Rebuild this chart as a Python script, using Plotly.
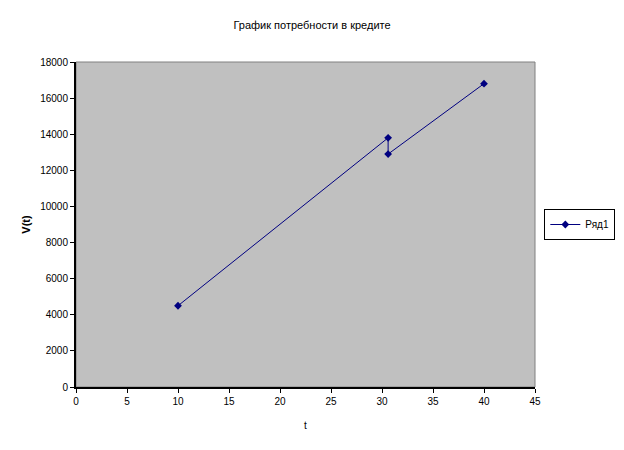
import plotly.graph_objects as go

# data
t_values = [10, 30.6, 30.6, 40]
v_values = [4500, 13800, 12900, 16800]
series_name = "Ряд1"

x_ticks = [0, 5, 10, 15, 20, 25, 30, 35, 40, 45]
y_ticks = [0, 2000, 4000, 6000, 8000, 10000, 12000, 14000, 16000, 18000]

font_family = "Liberation Sans, Arial, sans-serif"
line_color = "#000080"

fig = go.Figure()

fig.add_trace(go.Scatter(
    x=t_values,
    y=v_values,
    mode="lines+markers",
    name=series_name,
    line=dict(color=line_color, width=1),
    marker=dict(symbol="diamond", size=6, color=line_color),
))

# grey border around plot area (top/right)
fig.add_shape(
    type="rect", xref="paper", yref="paper",
    x0=0, y0=0, x1=1, y1=1,
    line=dict(color="#808080", width=1),
    layer="below",
)

# page body adds an 8px margin, so the figure is 8px smaller than the window
fig.update_layout(
    width=616,
    height=442,
    paper_bgcolor="white",
    plot_bgcolor="#c0c0c0",
    font=dict(family=font_family, size=10, color="black"),
    title=dict(
        text="График потребности в кредите",
        x=(312 - 8) / 616, xanchor="center",
        y=1 - 17 / 442, yanchor="middle",
        font=dict(size=11),
    ),
    margin=dict(l=68, r=89, t=54, b=63, autoexpand=False),
    showlegend=True,
    legend=dict(
        x=1.175, y=0.5, xanchor="right", yanchor="middle",
        bordercolor="black", borderwidth=1,
        font=dict(size=10),
        bgcolor="white",
        itemwidth=30,
    ),
    xaxis=dict(
        range=[0, 45],
        tickvals=x_ticks,
        ticktext=[str(v) for v in x_ticks],
        showgrid=False,
        zeroline=False,
        automargin=False,
        showline=True, linecolor="black", linewidth=2,
        ticks="outside", ticklen=4, tickcolor="black",
        title=dict(text="t", standoff=16, font=dict(size=10)),
    ),
    yaxis=dict(
        range=[0, 18000],
        tickvals=y_ticks,
        ticktext=[str(v) for v in y_ticks],
        showgrid=False,
        zeroline=False,
        automargin=False,
        showline=True, linecolor="black", linewidth=2,
        ticks="outside", ticklen=4, tickcolor="black",
        title=dict(text="<b>V(t)</b>", standoff=7, font=dict(size=11)),
    ),
)

fig.write_html("out.html")
